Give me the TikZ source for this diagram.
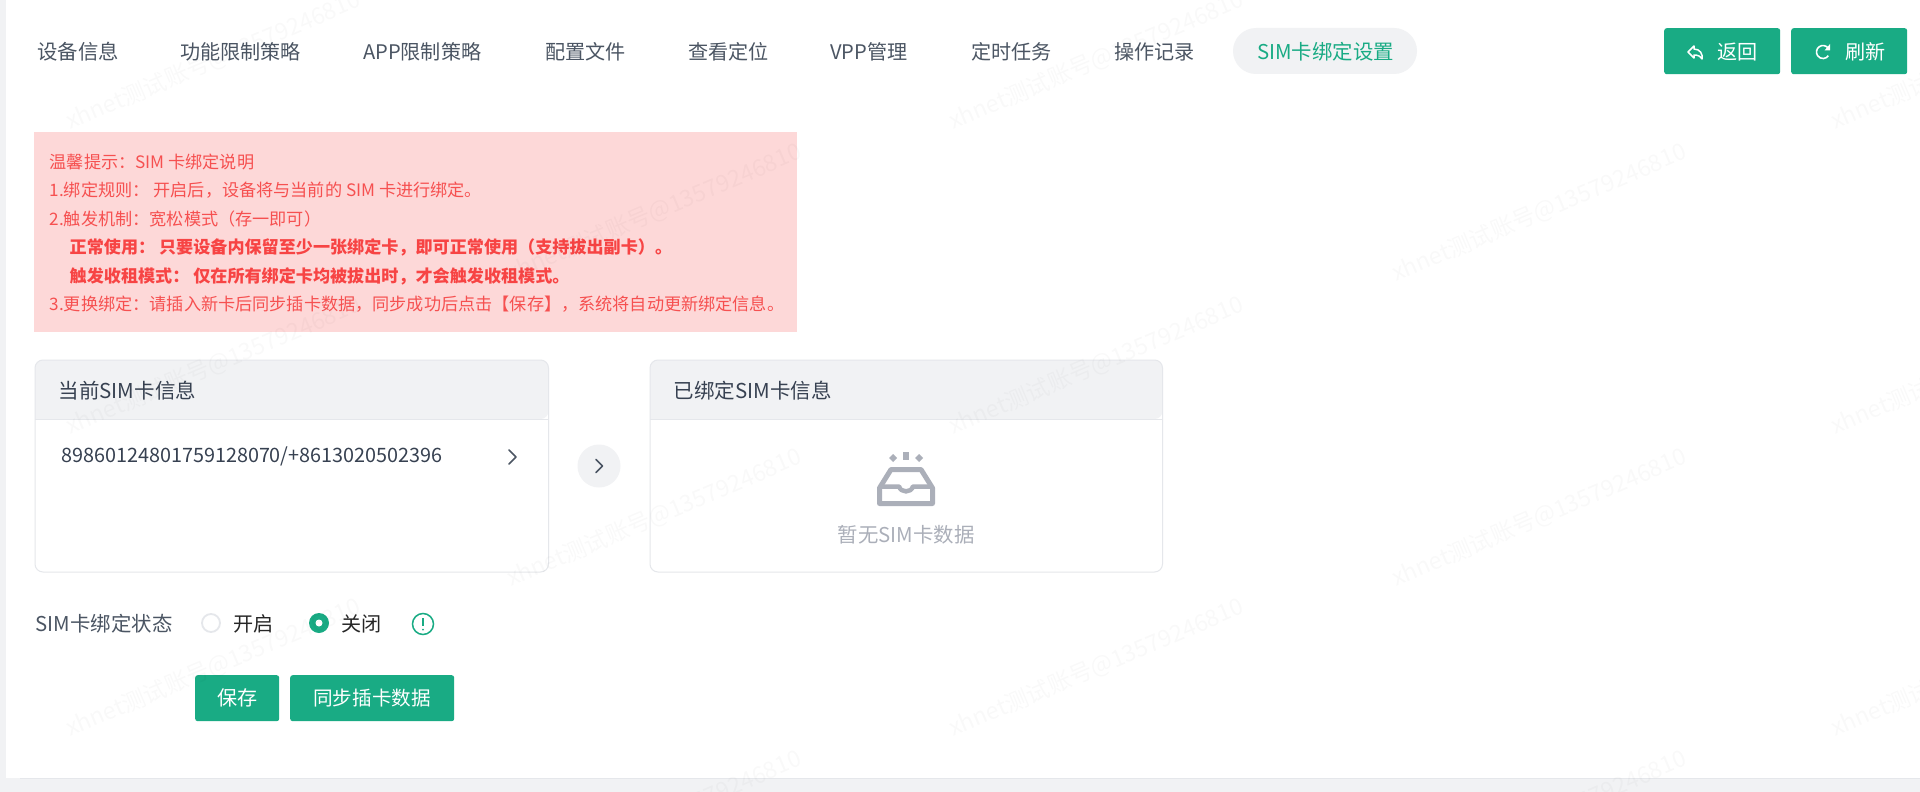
\documentclass[tikz,border=0pt]{standalone}
\usepackage{fontspec}
\setmainfont{Noto Sans CJK SC}
\definecolor{pagegray}{HTML}{F1F2F4}
\definecolor{edge}{HTML}{E5E7EB}
\definecolor{brand}{HTML}{19AB84}
\definecolor{ink}{HTML}{4B5563}
\definecolor{inkdark}{HTML}{374151}
\definecolor{pinkbg}{HTML}{FDD8D8}
\definecolor{alert}{HTML}{F65050}
\definecolor{alertb}{HTML}{F74444}
\definecolor{mute}{HTML}{ABAFB9}
\tikzset{
  tab/.style={anchor=west,inner sep=0pt,text=ink,font=\fontsize{20.1}{24}\selectfont},
  widetab/.style={tab,font=\fontsize{20.4}{24}\selectfont},
  btn/.style={anchor=north west,inner sep=0pt,fill=brand,rounded corners=2.5pt,text=white,font=\fontsize{20.4}{24}\selectfont},
  alertline/.style={anchor=west,inner sep=0pt,text=alert,font=\fontsize{17.15}{20}\selectfont},
  alertbold/.style={anchor=west,inner sep=0pt,text=alertb,font=\fontsize{17.1}{20}\bfseries\selectfont},
  cardtitle/.style={anchor=west,inner sep=0pt,text=inkdark,font=\fontsize{20.5}{24}\selectfont},
  chev/.style={line width=1.5pt,draw=ink,line cap=round,line join=round},
  wmark/.style={anchor=west,inner sep=0pt,rotate=23,text=black,opacity=.025,font=\fontsize{23.2}{26}\selectfont},
  cardline/.style={draw=edge,line width=1pt},
  traystroke/.style={draw=mute,line width=5pt,line join=round}
}
\begin{document}
\begin{tikzpicture}[x=1pt,y=-1pt]
\useasboundingbox (0,0) rectangle (1920,792);
\fill[white] (0,0) rectangle (1920,792);
\fill[pagegray] (0,0) rectangle (6,792);
\fill[pagegray] (0,778) rectangle (1920,792);
\draw[edge,line width=.8pt] (20,778) -- (1920,778);

% tabs
\node[widetab] (t1) at (37,52) {设备信息};
\node[tab] (t2) at (180,52) {功能限制策略};
\node[tab] (t3) at (363,52) {APP限制策略};
\node[tab] (t4) at (545,52) {配置文件};
\node[tab] (t5) at (688,52) {查看定位};
\node[tab] (t6) at (830,52) {VPP管理};
\node[tab] (t7) at (971,52) {定时任务};
\node[tab] (t8) at (1114,52) {操作记录};
\fill[pagegray,rounded corners=23pt] (1233,28) rectangle (1417,74);
\node[widetab,text=brand] (t9) at (1257,52) {SIM卡绑定设置};

% top buttons
\node[btn,minimum width=116pt,minimum height=46pt] (back) at (1664,28) {};
\node[btn,minimum width=116pt,minimum height=46pt] (refresh) at (1791,28) {};
\node[tab,text=white] (backt) at (1717,52) {返回};
\node[tab,text=white] (reft) at (1845,52) {刷新};
\draw[white,line width=1.5pt,line join=round] (1688,52) -- (1694,46) -- (1694,49) .. controls (1700,49) and (1703,54) .. (1702,59) .. controls (1700,56) and (1698,55) .. (1694,55) -- (1694,58) -- cycle;
\draw[white,line width=1.6pt] (1828.3,48.3) arc[start angle=-35,end angle=-325,radius=6.5];
\fill[white] (1830,44) -- (1830,50.5) -- (1824.5,50.5) -- cycle;

% alert
\fill[pinkbg] (34,132) rectangle (797,332);
\node[alertline] (a1) at (49.5,162) {温馨提示：SIM 卡绑定说明};
\node[alertline] (a2) at (49.5,190) {1.绑定规则： 开启后，设备将与当前的 SIM 卡进行绑定。};
\node[alertline] (a3) at (49.5,219) {2.触发机制：宽松模式（存一即可）};
\node[alertbold] (a4) at (69.5,247) {正常使用： 只要设备内保留至少一张绑定卡，即可正常使用（支持拔出副卡）。};
\node[alertbold] (a5) at (69.5,276) {触发收租模式： 仅在所有绑定卡均被拔出时，才会触发收租模式。};
\node[alertline] (a6) at (49.5,304) {3.更换绑定：请插入新卡后同步插卡数据，同步成功后点击【保存】，系统将自动更新绑定信息。};

% left card
\fill[pagegray,rounded corners=8pt] (35,419) -- (35,360) -- (548.5,360) -- (548.5,419) [sharp corners] -- cycle;
\draw[cardline,rounded corners=8pt] (35,360) rectangle (548.5,572);
\draw[cardline] (35,419) -- (548.5,419);
\node[cardtitle] (c1t) at (58.5,391) {当前SIM卡信息};
\node[tab,text=inkdark,font=\fontsize{19.8}{24}\selectfont] (c1v) at (61,456) {89860124801759128070/+8613020502396};
\draw[chev] (509,450) -- (516,457) -- (509,464);

% middle round button
\node[circle,fill=pagegray,minimum size=43pt,inner sep=0pt] (mid) at (599,466) {};
\draw[chev] (596,459.5) -- (602.5,466) -- (596,472.5);

% right card
\fill[pagegray,rounded corners=8pt] (650,419) -- (650,360) -- (1162.5,360) -- (1162.5,419) [sharp corners] -- cycle;
\draw[cardline,rounded corners=8pt] (650,360) rectangle (1162.5,572);
\draw[cardline] (650,419) -- (1162.5,419);
\node[cardtitle] (c2t) at (673.5,391) {已绑定SIM卡信息};

% empty tray icon
\fill[mute] (903,452) rectangle (909,460);
\fill[mute] (893,454) -- (897,458) -- (893,462) -- (889,458) -- cycle;
\fill[mute] (919,454) -- (923,458) -- (919,462) -- (915,458) -- cycle;
\draw[traystroke] (891,469.5) -- (921,469.5) -- (932.5,488) -- (932.5,503.5) -- (879.5,503.5) -- (879.5,488) -- cycle;
\draw[traystroke,line width=4.5pt] (879.5,486.5) -- (899,486.5) .. controls (901,493) and (911,493) .. (913,486.5) -- (932.5,486.5);
\node[widetab,text=mute] (empty) at (837.5,535) {暂无SIM卡数据};

% status row
\node[widetab] (st) at (35.5,624) {SIM卡绑定状态};
\node[circle,draw=edge,line width=1.8pt,fill=white,minimum size=18pt,inner sep=0pt] (r1) at (211,623) {};
\node[tab,text=black!85] (r1t) at (233,624) {开启};
\node[circle,fill=brand,minimum size=20pt,inner sep=0pt] (r2) at (319,623) {};
\fill[white] (r2.center) circle (3.5);
\node[tab,text=black!85] (r2t) at (341,624) {关闭};
\node[circle,draw=brand,line width=1.5pt,fill=white,minimum size=21pt,inner sep=0pt] (info) at (423,624) {};
\draw[brand,line width=1.5pt] (423,618) -- (423,626);
\fill[brand] (423,629.5) circle (1);

% bottom buttons
\node[btn,minimum width=84pt,minimum height=46pt] (save) at (195,675) {};
\node[btn,minimum width=164pt,minimum height=46pt] (sync) at (290,675) {};
\node[tab,text=white] (savet) at (217,698) {保存};
\node[tab,text=white,font=\fontsize{19.6}{24}\selectfont] (synct) at (313,698) {同步插卡数据};

% watermark tile
\begin{scope}
\clip (0,0) rectangle (1920,792);
\foreach \wx/\wy/\wn in {67/123/a,950/123/b,1832/123/c,508/275/d,1393/275/e,67/428/f,950/428/g,1832/428/h,508/580/i,1393/580/j,67/730/k,950/730/l,1832/730/m,508/882/n,1393/882/o}
  \node[wmark] (wm\wn) at (\wx,\wy) {xhnet测试账号@13579246810};
\end{scope}
\end{tikzpicture}
\end{document}
